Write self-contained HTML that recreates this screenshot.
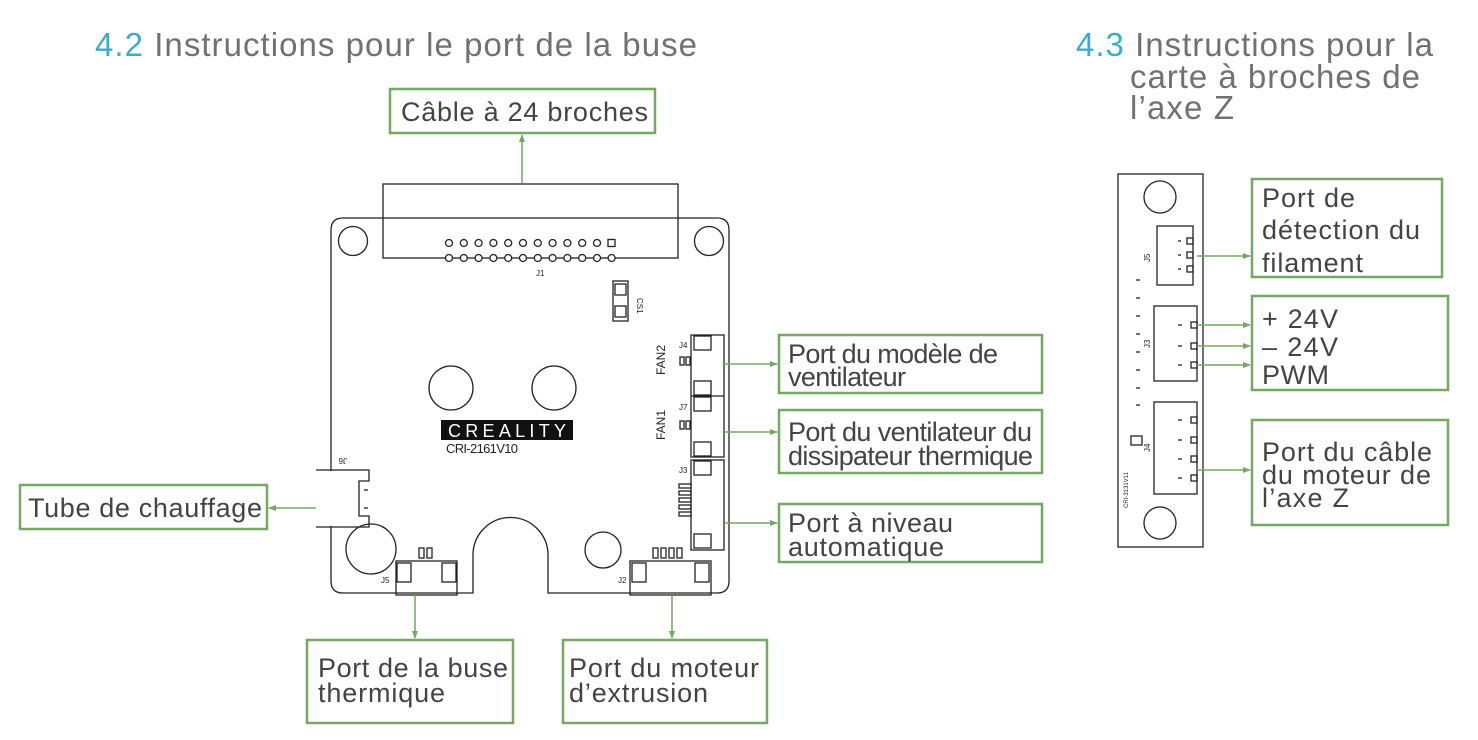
<!DOCTYPE html>
<html><head><meta charset="utf-8"><style>
html,body{margin:0;padding:0;background:#fff;width:1478px;height:740px;overflow:hidden}
svg{display:block}
.h{font-family:"Liberation Sans",sans-serif;font-size:33px;fill:#707175}
.t{font-family:"Liberation Sans",sans-serif;font-size:27px;fill:#444}
.b{fill:#fff;stroke:#74a863;stroke-width:2.5}
.g{stroke:#74a863;stroke-width:1.5;fill:none}
.k{stroke:#222;stroke-width:1.3;fill:none}
.s{font-family:"Liberation Sans",sans-serif;font-size:8px;fill:#222}
</style></head><body>
<svg width="1478" height="740" viewBox="0 0 1478 740">
<defs><marker id="a" markerWidth="8" markerHeight="8" refX="7" refY="4" orient="auto" markerUnits="userSpaceOnUse"><path d="M0,1 L8,4 L0,7z" fill="#74a863"/></marker></defs>
<text x="95" y="56" class="h" textLength="602"><tspan fill="#3aaec9">4.2</tspan> Instructions pour le port de la buse</text>
<text x="1076" y="56" class="h" textLength="357"><tspan fill="#3aaec9">4.3</tspan> Instructions pour la</text>
<text x="1130" y="88" class="h" textLength="290">carte à broches de</text>
<text x="1130" y="119" class="h" textLength="104">l’axe Z</text>

<!-- main board -->
<path class="k" d="M343,218 H717 Q729,218 729,230 V581 Q729,593 717,593 H548 V555 A37.5,37.5 0 0 0 473,555 V593 H343 Q331,593 331,581 V230 Q331,218 343,218Z"/>
<rect class="k" x="383" y="184" width="295" height="74" fill="#fff"/>
<g class="k" stroke-width="1.2">
<circle cx="449" cy="243" r="3.5"/><circle cx="463.8" cy="243" r="3.5"/><circle cx="478.6" cy="243" r="3.5"/><circle cx="493.4" cy="243" r="3.5"/><circle cx="508.2" cy="243" r="3.5"/><circle cx="523" cy="243" r="3.5"/><circle cx="537.8" cy="243" r="3.5"/><circle cx="552.6" cy="243" r="3.5"/><circle cx="567.4" cy="243" r="3.5"/><circle cx="582.2" cy="243" r="3.5"/><circle cx="597" cy="243" r="3.5"/><rect x="608" y="239.5" width="7" height="7"/>
<circle cx="449" cy="258" r="3.5" fill="#fff"/><circle cx="463.8" cy="258" r="3.5" fill="#fff"/><circle cx="478.6" cy="258" r="3.5" fill="#fff"/><circle cx="493.4" cy="258" r="3.5" fill="#fff"/><circle cx="508.2" cy="258" r="3.5" fill="#fff"/><circle cx="523" cy="258" r="3.5" fill="#fff"/><circle cx="537.8" cy="258" r="3.5" fill="#fff"/><circle cx="552.6" cy="258" r="3.5" fill="#fff"/><circle cx="567.4" cy="258" r="3.5" fill="#fff"/><circle cx="582.2" cy="258" r="3.5" fill="#fff"/><circle cx="597" cy="258" r="3.5" fill="#fff"/><circle cx="611.6" cy="258" r="3.5" fill="#fff"/>
</g>
<text x="536" y="276" class="s">J1</text>
<circle class="k" cx="353" cy="241" r="14.5"/><circle class="k" cx="709" cy="241" r="14.5"/>
<rect class="k" x="613" y="281" width="15" height="40" stroke-width="2"/>
<rect class="k" x="615" y="284" width="11" height="11"/><rect class="k" x="615" y="306" width="11" height="11"/>
<text x="631" y="296" class="s" transform="rotate(90 633 300)">CS1</text>
<circle class="k" cx="451" cy="388" r="22"/><circle class="k" cx="554" cy="388" r="22"/>
<rect x="441" y="420" width="132" height="20" fill="#111"/>
<text x="507" y="437" font-family="Liberation Sans,sans-serif" font-size="18" fill="#fff" text-anchor="middle" textLength="118">CREALITY</text>
<text x="446" y="453" font-family="Liberation Sans,sans-serif" font-size="13" fill="#222" textLength="72">CRI-2161V10</text>
<text x="665" y="375" font-family="Liberation Sans,sans-serif" font-size="12" fill="#222" transform="rotate(-90 665 375)">FAN2</text>
<text x="665" y="440" font-family="Liberation Sans,sans-serif" font-size="12" fill="#222" transform="rotate(-90 665 440)">FAN1</text>
<rect class="k" x="691" y="335" width="33" height="122"/><line class="k" x1="691" y1="396" x2="724" y2="396"/>
<rect class="k" x="694" y="336" width="17" height="14"/><rect class="k" x="694" y="381" width="17" height="14"/><rect class="k" x="694" y="397" width="17" height="14"/><rect class="k" x="694" y="442" width="17" height="14"/>
<rect class="k" x="680" y="357" width="4" height="8"/><rect class="k" x="686" y="357" width="4" height="8"/><rect class="k" x="680" y="421" width="4" height="8"/><rect class="k" x="686" y="421" width="4" height="8"/>
<rect class="k" x="691" y="460" width="33" height="90"/>
<rect class="k" x="694" y="461" width="17" height="14"/><rect class="k" x="694" y="534" width="17" height="14"/>
<rect class="k" x="679" y="484" width="12" height="4"/><rect class="k" x="679" y="491" width="12" height="4"/><rect class="k" x="679" y="498" width="12" height="4"/><rect class="k" x="679" y="505" width="12" height="4"/><rect class="k" x="679" y="512" width="12" height="4"/>
<text x="679" y="348" class="s">J4</text><text x="679" y="410" class="s">J7</text><text x="679" y="473" class="s">J3</text>
<rect x="317" y="471" width="51" height="55" fill="#fff"/>
<path class="k" d="M316,470 H369 V481 H359 V516 H369 V527 H316"/>
<line class="k" x1="364" y1="490" x2="368" y2="490"/><line class="k" x1="364" y1="508" x2="368" y2="508"/>
<text x="343" y="462" class="s" transform="rotate(180 345 460)">J6</text>
<circle class="k" cx="371" cy="549" r="25"/><circle class="k" cx="603" cy="550" r="18"/>
<rect class="k" x="396" y="561" width="61" height="34"/><rect class="k" x="397" y="563" width="14" height="19"/><rect class="k" x="442" y="563" width="14" height="19"/>
<rect class="k" x="419" y="548" width="5" height="10"/><rect class="k" x="427" y="548" width="5" height="10"/>
<text x="381" y="583" class="s">J5</text>
<rect class="k" x="630" y="561" width="81" height="34"/><rect class="k" x="632" y="563" width="14" height="19"/><rect class="k" x="695" y="563" width="14" height="19"/>
<rect class="k" x="653" y="548" width="5" height="10"/><rect class="k" x="661" y="548" width="5" height="10"/><rect class="k" x="669" y="548" width="5" height="10"/><rect class="k" x="677" y="548" width="5" height="10"/>
<text x="618" y="583" class="s">J2</text>

<!-- connectors main -->
<line class="g" x1="522" y1="183" x2="522" y2="135" marker-end="url(#a)"/>
<line class="g" x1="724" y1="364" x2="777" y2="364" marker-end="url(#a)"/>
<line class="g" x1="724" y1="432" x2="777" y2="432" marker-end="url(#a)"/>
<line class="g" x1="724" y1="523" x2="777" y2="523" marker-end="url(#a)"/>
<line class="g" x1="316" y1="508" x2="269" y2="508" marker-end="url(#a)"/>
<line class="g" x1="415" y1="595" x2="415" y2="638" marker-end="url(#a)"/>
<line class="g" x1="672" y1="595" x2="672" y2="638" marker-end="url(#a)"/>

<rect class="b" x="390" y="89" width="265" height="44"/><text x="401" y="121" class="t" textLength="247">Câble à 24 broches</text>
<rect class="b" x="779" y="335" width="263" height="58"/><text x="788" y="363" class="t" textLength="210">Port du modèle de</text><text x="788" y="386" class="t" textLength="118">ventilateur</text>
<rect class="b" x="779" y="410" width="263" height="63"/><text x="788" y="441" class="t" textLength="244">Port du ventilateur du</text><text x="788" y="465" class="t" textLength="245">dissipateur thermique</text>
<rect class="b" x="779" y="504" width="263" height="58"/><text x="788" y="532" class="t" textLength="165">Port à niveau</text><text x="788" y="556" class="t" textLength="156">automatique</text>
<rect class="b" x="20" y="485" width="247" height="44"/><text x="28" y="517" class="t" textLength="234">Tube de chauffage</text>
<rect class="b" x="307" y="640" width="206" height="83"/><text x="318" y="677" class="t" textLength="190">Port de la buse</text><text x="318" y="702" class="t" textLength="127">thermique</text>
<rect class="b" x="563" y="640" width="204" height="83"/><text x="569" y="677" class="t" textLength="190">Port du moteur</text><text x="569" y="702" class="t" textLength="139">d’extrusion</text>

<!-- Z board -->
<rect class="k" x="1118" y="174" width="85" height="373"/>
<circle class="k" cx="1160" cy="197" r="16"/><circle class="k" cx="1160" cy="523" r="16"/>
<rect class="k" x="1157" y="226" width="36" height="59"/>
<rect class="k" x="1187" y="238" width="6" height="6"/><rect class="k" x="1187" y="252" width="6" height="6"/><rect class="k" x="1187" y="266" width="6" height="6"/>
<line class="k" x1="1178" y1="241" x2="1181" y2="241"/><line class="k" x1="1178" y1="255" x2="1181" y2="255"/><line class="k" x1="1178" y1="269" x2="1181" y2="269"/>
<rect class="k" x="1154" y="306" width="43" height="75"/>
<rect class="k" x="1191" y="322" width="6" height="6"/><rect class="k" x="1191" y="343" width="6" height="6"/><rect class="k" x="1191" y="362" width="6" height="6"/>
<line class="k" x1="1178" y1="325" x2="1182" y2="325"/><line class="k" x1="1178" y1="346" x2="1182" y2="346"/><line class="k" x1="1178" y1="365" x2="1182" y2="365"/>
<rect class="k" x="1154" y="402" width="43" height="92"/>
<rect class="k" x="1191" y="417" width="6" height="6"/><rect class="k" x="1191" y="437" width="6" height="6"/><rect class="k" x="1191" y="456" width="6" height="6"/><rect class="k" x="1191" y="475" width="6" height="6"/>
<line class="k" x1="1178" y1="420" x2="1182" y2="420"/><line class="k" x1="1178" y1="440" x2="1182" y2="440"/><line class="k" x1="1178" y1="459" x2="1182" y2="459"/><line class="k" x1="1178" y1="478" x2="1182" y2="478"/>
<g class="k"><line x1="1136" y1="280" x2="1140" y2="280"/><line x1="1136" y1="298" x2="1140" y2="298"/><line x1="1136" y1="316" x2="1140" y2="316"/><line x1="1136" y1="334" x2="1140" y2="334"/><line x1="1136" y1="352" x2="1140" y2="352"/><line x1="1136" y1="370" x2="1140" y2="370"/><line x1="1136" y1="388" x2="1140" y2="388"/><line x1="1136" y1="405" x2="1140" y2="405"/></g>
<rect class="k" x="1131" y="436" width="11" height="9"/>
<text x="1128" y="508" font-family="Liberation Sans,sans-serif" font-size="6" fill="#222" transform="rotate(-90 1128 508)">CRI-3131V11</text>
<text x="1150" y="262" class="s" font-size="6" transform="rotate(-90 1150 262)">J5</text>
<text x="1150" y="348" class="s" font-size="6" transform="rotate(-90 1150 348)">J3</text>
<text x="1150" y="452" class="s" font-size="6" transform="rotate(-90 1150 452)">J4</text>

<line class="g" x1="1197" y1="256" x2="1250" y2="256" marker-end="url(#a)"/>
<line class="g" x1="1197" y1="325" x2="1250" y2="325" marker-end="url(#a)"/>
<line class="g" x1="1197" y1="346" x2="1250" y2="346" marker-end="url(#a)"/>
<line class="g" x1="1197" y1="365" x2="1250" y2="365" marker-end="url(#a)"/>
<line class="g" x1="1197" y1="470" x2="1250" y2="470" marker-end="url(#a)"/>

<rect class="b" x="1252" y="179" width="190" height="98"/>
<text x="1262" y="207" class="t" textLength="93">Port de</text><text x="1262" y="239" class="t" textLength="158">détection du</text><text x="1262" y="272" class="t" textLength="101">filament</text>
<rect class="b" x="1252" y="296" width="196" height="94"/>
<text x="1262" y="328" class="t" textLength="76">+ 24V</text><text x="1262" y="356" class="t" textLength="76">– 24V</text><text x="1262" y="384" class="t" textLength="67">PWM</text>
<rect class="b" x="1252" y="420" width="196" height="105"/>
<text x="1262" y="461" class="t" textLength="170">Port du câble</text><text x="1262" y="484" class="t" textLength="169">du moteur de</text><text x="1262" y="507" class="t" textLength="87">l’axe Z</text>
</svg>
</body></html>
